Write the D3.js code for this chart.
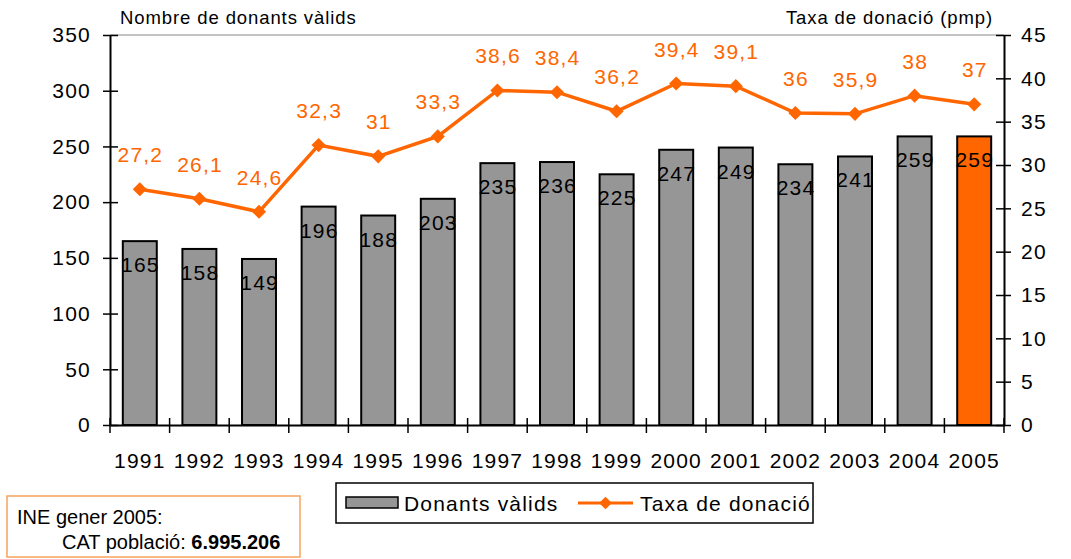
<!DOCTYPE html>
<html>
<head>
<meta charset="utf-8">
<script src="https://cdn.jsdelivr.net/npm/d3@7"></script>
<style>
  body { margin: 0; background: #fff; }
  svg { font-family: "Liberation Sans", Arial, sans-serif; }
</style>
</head>
<body>
<svg id="chart" width="1071" height="559"></svg>
<script>
const years = ["1991","1992","1993","1994","1995","1996","1997","1998","1999","2000","2001","2002","2003","2004","2005"];
const donants = [165,158,149,196,188,203,235,236,225,247,249,234,241,259,259];
const taxa = [27.2,26.1,24.6,32.3,31,33.3,38.6,38.4,36.2,39.4,39.1,36,35.9,38,37];
const leftTicks = [0,50,100,150,200,250,300,350];
const rightTicks = [0,5,10,15,20,25,30,35,40,45];

const svg = d3.select("#chart");
const plotLeft = 110, plotRight = 1004, plotTop = 35, plotBottom = 425;
const orange = "#FF6600";
const fs = 21, ls = 1.2;
const fmt = (v) => String(v).replace(".", ",");

const x = d3.scaleBand().domain(years).range([plotLeft, plotRight]).paddingInner(0.43).paddingOuter(0.215);
const xb = d3.scaleBand().domain(years).range([plotLeft, plotRight]);
const yL = d3.scaleLinear().domain([0, 350]).range([plotBottom, plotTop]);
const yR = d3.scaleLinear().domain([0, 45]).range([plotBottom, plotTop]);

// top border of plot area
svg.append("line")
  .attr("x1", plotLeft).attr("x2", plotRight).attr("y1", plotTop).attr("y2", plotTop)
  .attr("stroke", "#888").attr("stroke-width", 1);

// bars
svg.append("g").selectAll("rect")
  .data(donants)
  .enter()
  .append("rect")
  .attr("x", (d, i) => x(years[i]))
  .attr("y", (d) => yL(d))
  .attr("width", x.bandwidth())
  .attr("height", (d) => plotBottom - yL(d))
  .attr("fill", (d, i) => i === years.length - 1 ? orange : "#969696")
  .attr("stroke", "#000")
  .attr("stroke-width", 2);

// bar labels
svg.append("g").selectAll("text")
  .data(donants)
  .enter()
  .append("text")
  .attr("x", (d, i) => x(years[i]) + x.bandwidth() / 2 + ls / 2)
  .attr("y", (d) => yL(d) + 31)
  .attr("text-anchor", "middle")
  .attr("font-size", fs)
  .attr("letter-spacing", ls)
  .attr("fill", "#000")
  .text((d) => d);

const styleAxisText = (g) => g.selectAll("text")
  .attr("font-size", fs).attr("letter-spacing", ls).attr("fill", "#000")
  .attr("font-family", "Liberation Sans, Arial, sans-serif");

// axes
const axisL = svg.append("g")
  .attr("transform", `translate(${plotLeft},0)`)
  .call(d3.axisLeft(yL).tickValues(leftTicks).tickSize(0).tickPadding(19));
styleAxisText(axisL);
axisL.select(".domain").attr("stroke", "#000").attr("stroke-width", 2);
axisL.selectAll(".tick").append("line").attr("x1", -7).attr("x2", 8).attr("stroke", "#000").attr("stroke-width", 1.5);

const axisR = svg.append("g")
  .attr("transform", `translate(${plotRight},0)`)
  .call(d3.axisRight(yR).tickValues(rightTicks).tickSize(0).tickPadding(17));
styleAxisText(axisR);
axisR.select(".domain").attr("stroke", "#000").attr("stroke-width", 2);
axisR.selectAll(".tick").append("line").attr("x1", -8).attr("x2", 7).attr("stroke", "#000").attr("stroke-width", 1.5);

const axisB = svg.append("g")
  .attr("transform", `translate(0,${plotBottom})`)
  .call(d3.axisBottom(xb).tickSize(0).tickPadding(28));
styleAxisText(axisB);
axisB.select(".domain").attr("stroke", "#000").attr("stroke-width", 2);
axisB.append("g").selectAll("line")
  .data(years.concat(["end"]))
  .enter()
  .append("line")
  .attr("x1", (d, i) => plotLeft + i * xb.step())
  .attr("x2", (d, i) => plotLeft + i * xb.step())
  .attr("y1", -7).attr("y2", 8)
  .attr("stroke", "#000").attr("stroke-width", 1.5);

// line series
const cx = (i) => xb(years[i]) + xb.bandwidth() / 2;
svg.append("path")
  .datum(taxa)
  .attr("fill", "none")
  .attr("stroke", orange)
  .attr("stroke-width", 3.5)
  .attr("d", d3.line().x((d, i) => cx(i)).y((d) => yR(d)));

svg.append("g").selectAll("path")
  .data(taxa)
  .enter()
  .append("path")
  .attr("transform", (d, i) => `translate(${cx(i)},${yR(d)}) rotate(45)`)
  .attr("d", "M-5,-5H5V5H-5Z")
  .attr("fill", orange);

svg.append("g").selectAll("text")
  .data(taxa)
  .enter()
  .append("text")
  .attr("x", (d, i) => cx(i) + ls / 2)
  .attr("y", (d) => yR(d) - 27)
  .attr("text-anchor", "middle")
  .attr("font-size", fs)
  .attr("letter-spacing", ls)
  .attr("fill", orange)
  .text((d) => fmt(d));

// axis titles
svg.append("text").attr("x", 120).attr("y", 24).attr("font-size", 18.5).attr("letter-spacing", 0.9).text("Nombre de donants vàlids");
svg.append("text").attr("x", 993).attr("y", 24).attr("font-size", 18.5).attr("letter-spacing", 0.9).attr("text-anchor", "end").text("Taxa de donació (pmp)");

// legend
const legend = svg.append("g").attr("transform", "translate(336,483)");
legend.append("rect").attr("width", 477).attr("height", 40).attr("fill", "#fff").attr("stroke", "#000").attr("stroke-width", 1.5);
legend.append("rect").attr("x", 10).attr("y", 14).attr("width", 52).attr("height", 11).attr("fill", "#969696").attr("stroke", "#000").attr("stroke-width", 1.5);
legend.append("text").attr("x", 68).attr("y", 28).attr("font-size", fs).attr("letter-spacing", ls).text("Donants vàlids");
legend.append("line").attr("x1", 242).attr("x2", 297).attr("y1", 20).attr("y2", 20).attr("stroke", orange).attr("stroke-width", 3);
legend.append("path").attr("transform", "translate(269.5,20) rotate(45)").attr("d", "M-4.5,-4.5H4.5V4.5H-4.5Z").attr("fill", orange);
legend.append("text").attr("x", 304).attr("y", 28).attr("font-size", fs).attr("letter-spacing", ls).text("Taxa de donació");

// info box
const info = svg.append("g").attr("transform", "translate(7,496)");
info.append("rect").attr("width", 293).attr("height", 61).attr("fill", "#fff").attr("stroke", "#F7A35C").attr("stroke-width", 1.5);
info.append("text").attr("x", 10).attr("y", 28).attr("font-size", 20).text("INE gener 2005:");
const t2 = info.append("text").attr("x", 55).attr("y", 53).attr("font-size", 20);
t2.append("tspan").text("CAT població: ");
t2.append("tspan").attr("font-weight", "bold").text("6.995.206");
</script>
</body>
</html>
